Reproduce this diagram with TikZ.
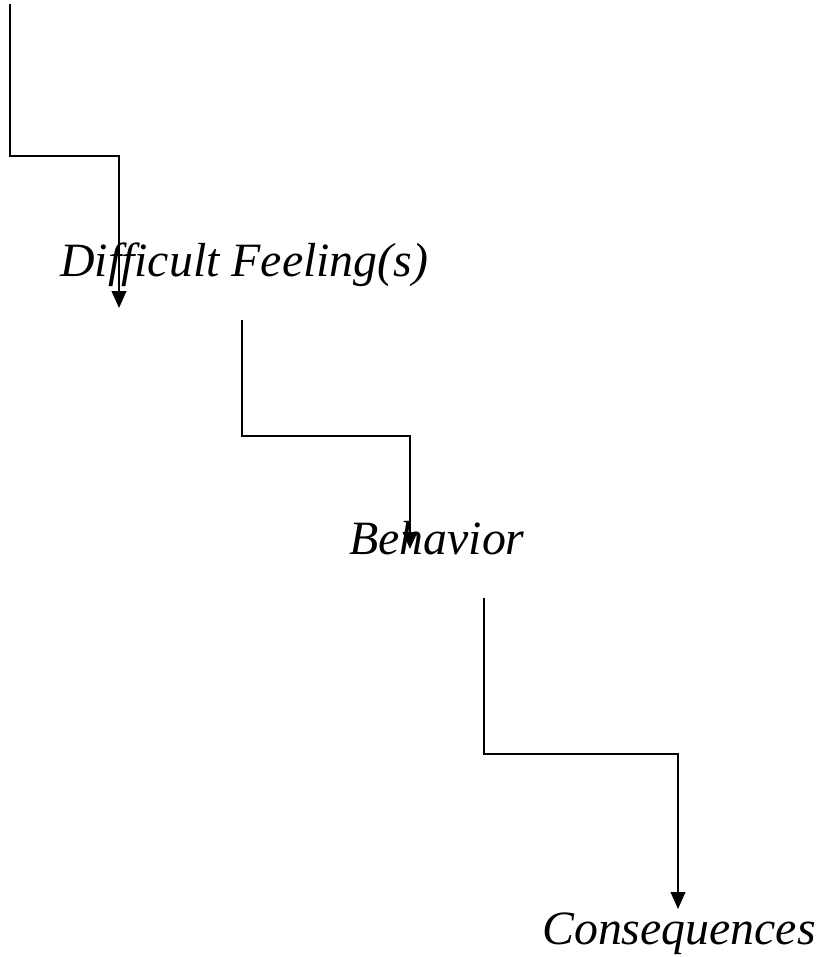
\documentclass[tikz,border=0pt]{standalone}
\usepackage{fontspec}
\setmainfont{Liberation Serif}
\usetikzlibrary{arrows.meta,positioning}

\begin{document}
\begin{tikzpicture}[x=0.025cm,y=-0.025cm,
	step label/.style={anchor=base west,inner sep=0pt,font=\fontsize{34}{40}\selectfont\itshape},
	flow/.style={line width=1.6pt,-{Triangle[width=0.36cm,length=0.42cm]}}]
	\useasboundingbox (0,0) rectangle (822,957);

	% Labels
	\node[step label] (feel) at (60,277) {Difficult Feeling(s)};
	\node[step label] (behav) at (349,554) {Behavior};
	\node[step label] (conseq) at (542,944) {Consequences};

	% Connector ends and bends
	\coordinate (top) at (10,4);
	\coordinate (bend1) at (0,156);
	\coordinate (feel-in) at (119,308);
	\coordinate (feel-out) at (242,320);
	\coordinate (bend2) at (0,436);
	\coordinate (behav-in) at (410,549);
	\coordinate (behav-out) at (484,598);
	\coordinate (bend3) at (0,754);
	\coordinate (conseq-in) at (678,909);

	% Connectors
	\draw[flow] (top) |- (feel-in |- bend1) -- (feel-in);
	\draw[flow] (feel-out) |- (behav-in |- bend2) -- (behav-in);
	\draw[flow] (behav-out) |- (conseq-in |- bend3) -- (conseq-in);
\end{tikzpicture}
\end{document}
